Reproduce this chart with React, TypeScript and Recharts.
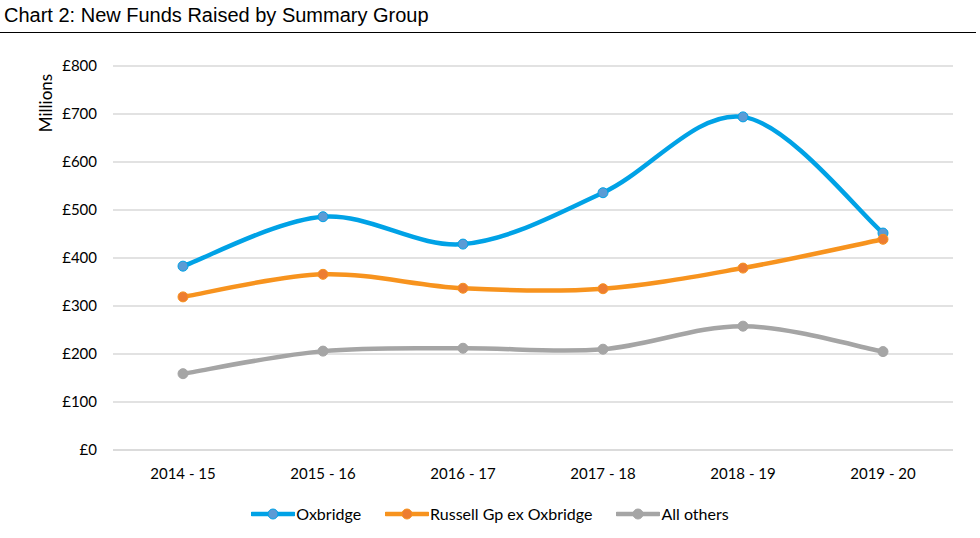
import { LineChart, Line, XAxis, YAxis, CartesianGrid } from 'recharts';

const years = ['2014 - 15', '2015 - 16', '2016 - 17', '2017 - 18', '2018 - 19', '2019 - 20'];
const oxbridge = [383, 486, 429, 536, 694, 452];
const russell = [319, 366, 337, 336, 379, 439];
const allOthers = [159, 206, 212, 210, 258, 205];
const yTicks = [0, 100, 200, 300, 400, 500, 600, 700, 800];

const chartData = years.map((year, i) => ({
  year,
  oxbridge: oxbridge[i],
  russell: russell[i],
  others: allOthers[i],
}));

const series = [
  { key: 'oxbridge', name: 'Oxbridge', line: '#00A2E6', dot: '#5B9BD5' },
  { key: 'russell', name: 'Russell Gp ex Oxbridge', line: '#F7931E', dot: '#ED7D31' },
  { key: 'others', name: 'All others', line: '#A5A5A5', dot: '#A5A5A5' },
];

// Excel-style smoothed line (Catmull-Rom through the points)
const excelSmooth = (context: any) => {
  let pts: number[][] = [];
  return {
    areaStart() {},
    areaEnd() {},
    lineStart() {
      pts = [];
    },
    point(x: number, y: number) {
      pts.push([+x, +y]);
    },
    lineEnd() {
      const n = pts.length;
      if (!n) return;
      context.moveTo(pts[0][0], pts[0][1]);
      for (let i = 0; i < n - 1; i++) {
        const p0 = pts[Math.max(i - 1, 0)];
        const p1 = pts[i];
        const p2 = pts[i + 1];
        const p3 = pts[Math.min(i + 2, n - 1)];
        context.bezierCurveTo(
          p1[0] + (p2[0] - p0[0]) / 6,
          p1[1] + (p2[1] - p0[1]) / 6,
          p2[0] - (p3[0] - p1[0]) / 6,
          p2[1] - (p3[1] - p1[1]) / 6,
          p2[0],
          p2[1]
        );
      }
    },
  };
};

const font = 'Lato, "Open Sans", sans-serif';

function LegendContent() {
  return (
    <div style={{ display: 'flex', justifyContent: 'center', alignItems: 'center', fontFamily: font, fontSize: 16, color: '#000' }}>
      {series.map((s, i) => (
        <div key={s.key} style={{ display: 'flex', alignItems: 'center', marginRight: i < 2 ? 24 : 0 }}>
          <svg width={44} height={12} style={{ display: 'block' }}>
            <line x1={1} y1={6} x2={43} y2={6} stroke={s.line} strokeWidth={4.5} strokeLinecap="round" />
            <circle cx={22} cy={6} r={5} fill={s.dot} stroke={s.line} strokeWidth={1} />
          </svg>
          <span style={{ marginLeft: 1 }}>{s.name}</span>
        </div>
      ))}
    </div>
  );
}

export default function App() {
  return (
    <div style={{ position: 'absolute', left: 0, top: 0, width: 980, height: 538, background: '#fff', overflow: 'hidden' }}>
      <div style={{ position: 'absolute', left: 4, top: 4, fontFamily: '"Liberation Sans", Arial, sans-serif', fontSize: 20, color: '#000', whiteSpace: 'nowrap' }}>
        Chart 2: New Funds Raised by Summary Group
      </div>
      <div style={{ position: 'absolute', left: 0, top: 32, width: 976, height: 1, background: '#000' }} />
      <div style={{ position: 'absolute', left: 0, top: 0 }}>
        <LineChart width={980} height={538} data={chartData} margin={{ top: 66, right: 27, bottom: 0, left: 0 }}>
          <CartesianGrid vertical={false} stroke="#D9D9D9" strokeWidth={1.5} />
          <XAxis
            dataKey="year"
            padding={{ left: 70, right: 70 }}
            axisLine={{ stroke: '#D9D9D9', strokeWidth: 1.5 }}
            tickLine={false}
            tickSize={0}
            tickMargin={18}
            height={88}
            tick={{ fontFamily: font, fontSize: 15, fill: '#000' }}
          />
          <YAxis
            width={113}
            domain={[0, 800]}
            ticks={yTicks}
            axisLine={false}
            tickLine={false}
            tickSize={0}
            tickMargin={16}
            tickFormatter={(v: number) => `£${v}`}
            tick={{ fontFamily: font, fontSize: 15, fill: '#000' }}
          />
          {series.map((s) => (
            <Line
              key={s.key}
              dataKey={s.key}
              name={s.name}
              type={excelSmooth as any}
              stroke={s.line}
              strokeWidth={4.5}
              dot={{ r: 5, fill: s.dot, stroke: s.line, strokeWidth: 1 }}
              activeDot={false}
              isAnimationActive={false}
            />
          ))}
        </LineChart>
      </div>
      <div
        style={{
          position: 'absolute',
          left: 45,
          top: 103,
          transform: 'translate(-50%, -50%) rotate(-90deg)',
          fontFamily: font,
          fontSize: 17,
          color: '#000',
          whiteSpace: 'nowrap',
        }}
      >
        Millions
      </div>
      <div style={{ position: 'absolute', left: 0, top: 504, width: 980 }}>
        <LegendContent />
      </div>
    </div>
  );
}
